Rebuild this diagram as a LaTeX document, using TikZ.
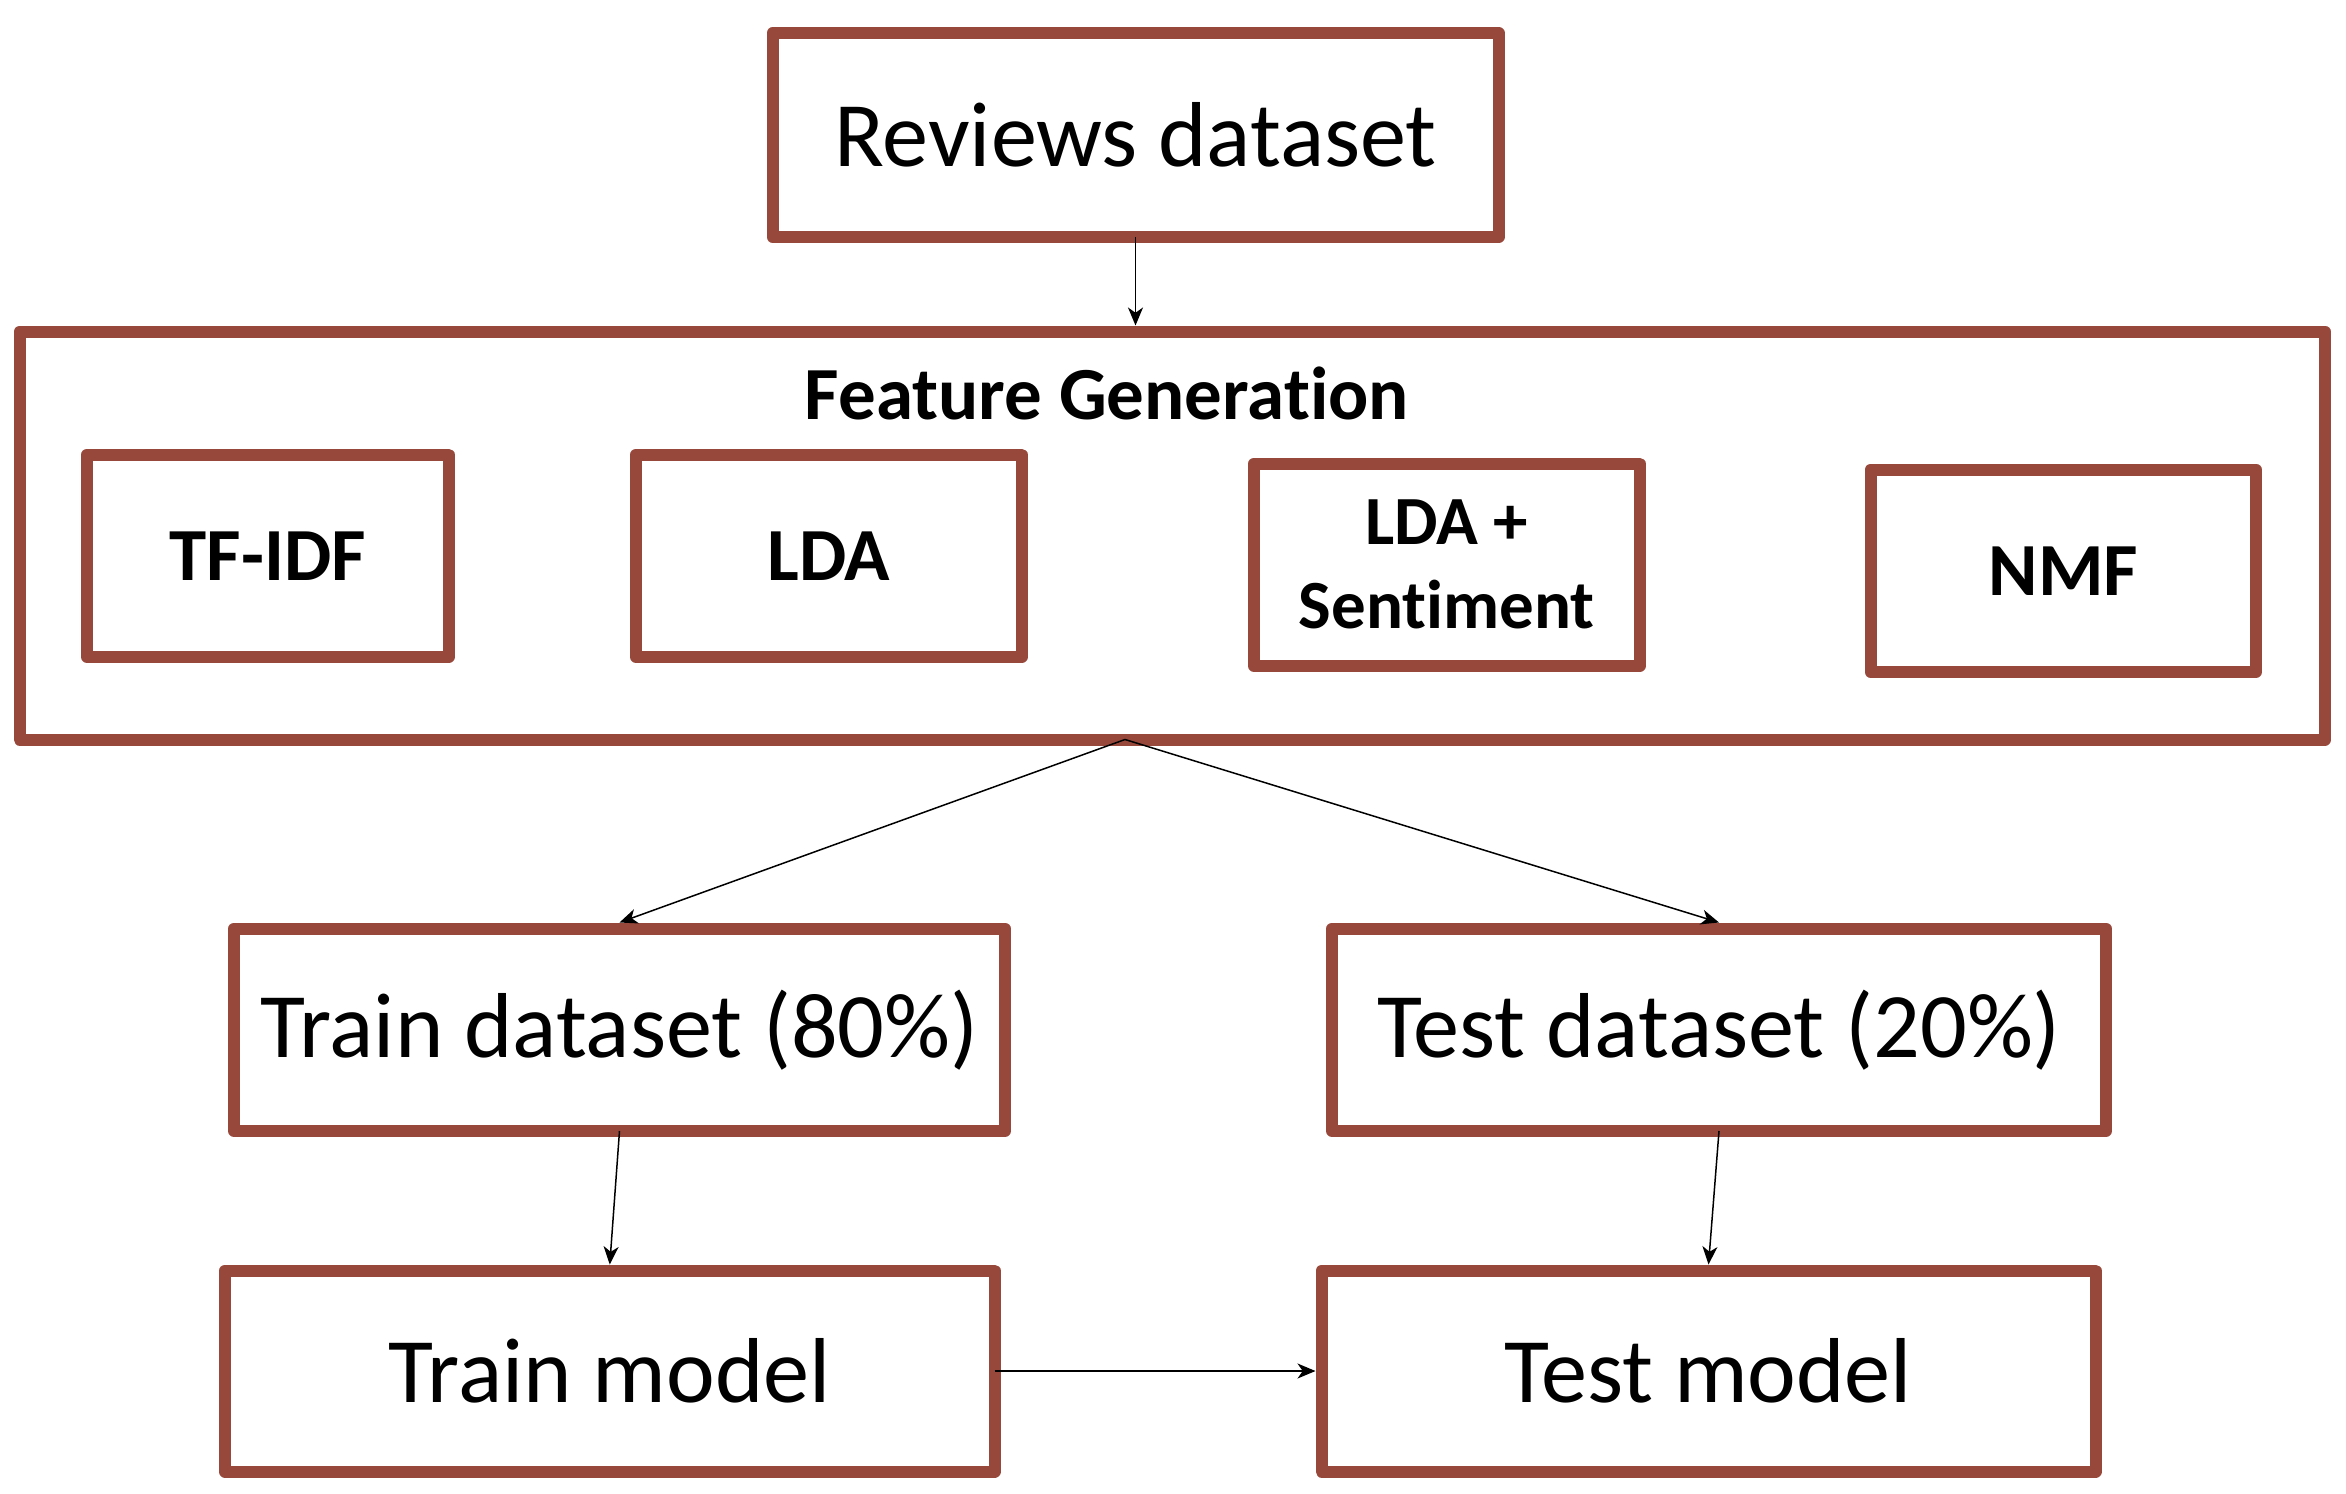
\documentclass[tikz,border=0pt]{standalone}
\usepackage{fontspec}
\setmainfont[Ligatures={NoCommon}]{Carlito}
\usetikzlibrary{arrows.meta}
\definecolor{boxred}{RGB}{152,72,59}
\tikzset{
  box/.style={draw=boxred, line width=8pt, line join=round, outer sep=0pt,
    inner sep=0pt, align=center},
  bigtxt/.style={font=\fontsize{61.5}{72}\selectfont},
  boldtxt/.style={font=\fontsize{50}{60}\selectfont\bfseries},
  arr/.style={-{Stealth[length=12pt,width=10pt,inset=3.5pt]}, line width=1pt, black}
}
\begin{document}
\begin{tikzpicture}[x=1pt,y=-1pt]
    \useasboundingbox (0,0) rectangle (1564,996);
    % Boxes
    \node[box,bigtxt,minimum width=484pt,minimum height=136pt] (rev) at (757,90) {Reviews dataset};
    \node[box,minimum width=1537pt,minimum height=272pt] (fg) at (781.5,357) {};
    \node[boldtxt] (fgtitle) at (738,262) {Feature Generation};
    \node[box,boldtxt,minimum width=241pt,minimum height=135pt] (tfidf) at (178.5,370.5) {TF-IDF};
    \node[box,boldtxt,minimum width=257pt,minimum height=135pt] (lda) at (552.5,370.5) {LDA};
    \node[box,font=\fontsize{46}{56}\selectfont\bfseries,minimum width=257pt,minimum height=135pt] (ldas) at (964.5,376.5) {LDA +\\Sentiment};
    \node[box,boldtxt,minimum width=257pt,minimum height=135pt] (nmf) at (1375.5,380.5) {NMF};
    \node[box,bigtxt,minimum width=514pt,minimum height=135pt] (trainds) at (413,686.5) {Train dataset (80\%)};
    \node[box,bigtxt,minimum width=516pt,minimum height=135pt] (testds) at (1146,686.5) {Test dataset (20\%)};
    \node[box,bigtxt,minimum width=513pt,minimum height=134pt] (trainmod) at (406.5,914) {Train model};
    \node[box,bigtxt,minimum width=516pt,minimum height=134pt] (testmod) at (1139,914) {Test model};
    % Arrows
    \coordinate (split) at (750,493);
    \draw[arr] (rev.south) -- ([yshift=4pt]rev.south |- fg.north);
    \draw[arr] (split) -- ([yshift=4pt]trainds.north);
    \draw[arr] (split) -- ([yshift=4pt]testds.north);
    \draw[arr] (trainds.south) -- ([yshift=4pt]trainmod.north);
    \draw[arr] (testds.south) -- ([yshift=4pt]testmod.north);
    \draw[arr] (trainmod.east) -- ([xshift=-4pt]testmod.west);
\end{tikzpicture}
\end{document}
